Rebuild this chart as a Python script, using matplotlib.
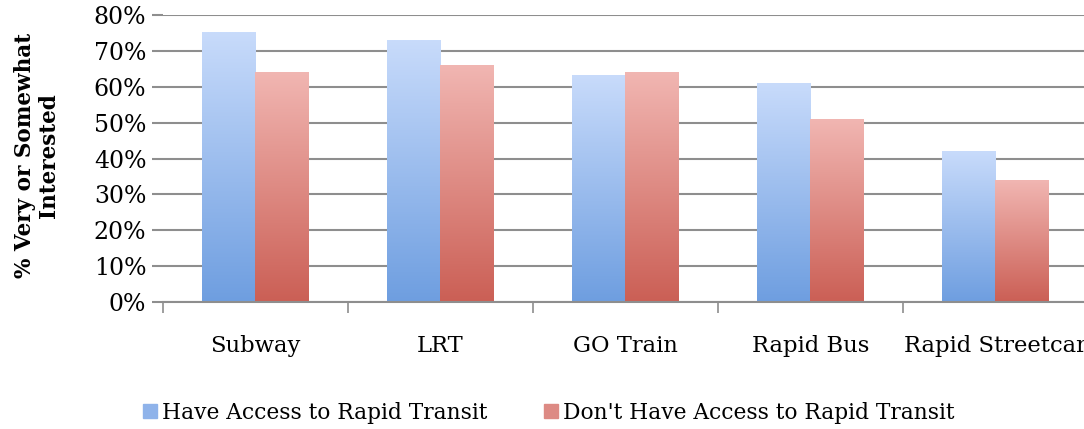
import matplotlib.pyplot as plt
import numpy as np
from matplotlib.colors import LinearSegmentedColormap
from matplotlib.lines import Line2D

categories = ['Subway', 'LRT', 'GO Train', 'Rapid Bus', 'Rapid Streetcar']
have_access = [75, 73, 63, 61, 42]
no_access = [64, 66, 64, 51, 34]
series_names = ['Have Access to Rapid Transit', "Don't Have Access to Rapid Transit"]
y_ticks = [0, 10, 20, 30, 40, 50, 60, 70, 80]

plt.rcParams['font.family'] = ['DejaVu Serif']

fig = plt.figure(figsize=(10.84, 4.29), dpi=100)
ax = fig.add_axes([0.1504, 0.296, 0.853, 0.669])

blue_cm = LinearSegmentedColormap.from_list('blue', ['#6e9ee0', '#c8dbfb'])
red_cm = LinearSegmentedColormap.from_list('red', ['#cb5f55', '#f1b6b2'])

x = np.arange(len(categories))
w = 0.29
bars1 = ax.bar(x - w / 2, have_access, w, color='none', zorder=3)
bars2 = ax.bar(x + w / 2, no_access, w, color='none', zorder=3)

# fill each bar with a vertical gradient
grad = np.linspace(0, 1, 256).reshape(-1, 1)
for bars, cmap in ((bars1, blue_cm), (bars2, red_cm)):
    for b in bars:
        x0, h = b.get_x(), b.get_height()
        ax.imshow(grad, extent=[x0, x0 + b.get_width(), 0, h], origin='lower',
                  aspect='auto', cmap=cmap, zorder=2, interpolation='bilinear')

ax.set_xlim(-0.5, len(categories) - 0.5)
ax.set_ylim(0, 80)
ax.set_yticks(y_ticks)
ax.set_yticklabels([f'{t}%' for t in y_ticks], fontsize=17)
ax.yaxis.grid(True, color='#8e8e8e', linewidth=1.5, zorder=0)
ax.set_axisbelow(True)

# category boundaries get the tick marks, labels sit in the middle
ax.set_xticks(np.arange(-0.5, len(categories), 1.0))
ax.set_xticklabels([])
ax.set_xticks(x, minor=True)
ax.set_xticklabels(categories, minor=True, fontsize=16.3)
ax.tick_params(axis='x', which='minor', length=0, pad=24)
ax.tick_params(axis='x', which='major', length=8, width=1.2, color='#8e8e8e')
ax.tick_params(axis='y', length=8, width=1.5, color='#8e8e8e', pad=4)

for s in ('top', 'right', 'left'):
    ax.spines[s].set_visible(False)
ax.spines['bottom'].set_color('#8e8e8e')
ax.spines['bottom'].set_linewidth(1.5)

ax.set_ylabel('% Very or Somewhat\nInterested', fontsize=15.5, fontweight='bold',
              linespacing=1.15)
ax.yaxis.set_label_coords(-0.111, 0.51)

handles = [Line2D([], [], marker='s', linestyle='none', markersize=9.5, color='#8fb3ea'),
           Line2D([], [], marker='s', linestyle='none', markersize=9.5, color='#dd8a84')]
fig.legend(handles, series_names, loc='center', bbox_to_anchor=(0.506, 0.037),
           ncol=2, frameon=False, fontsize=15.7, handletextpad=0.2, columnspacing=2.6,
           handlelength=0.7)

fig.savefig('out.png', dpi=100)
